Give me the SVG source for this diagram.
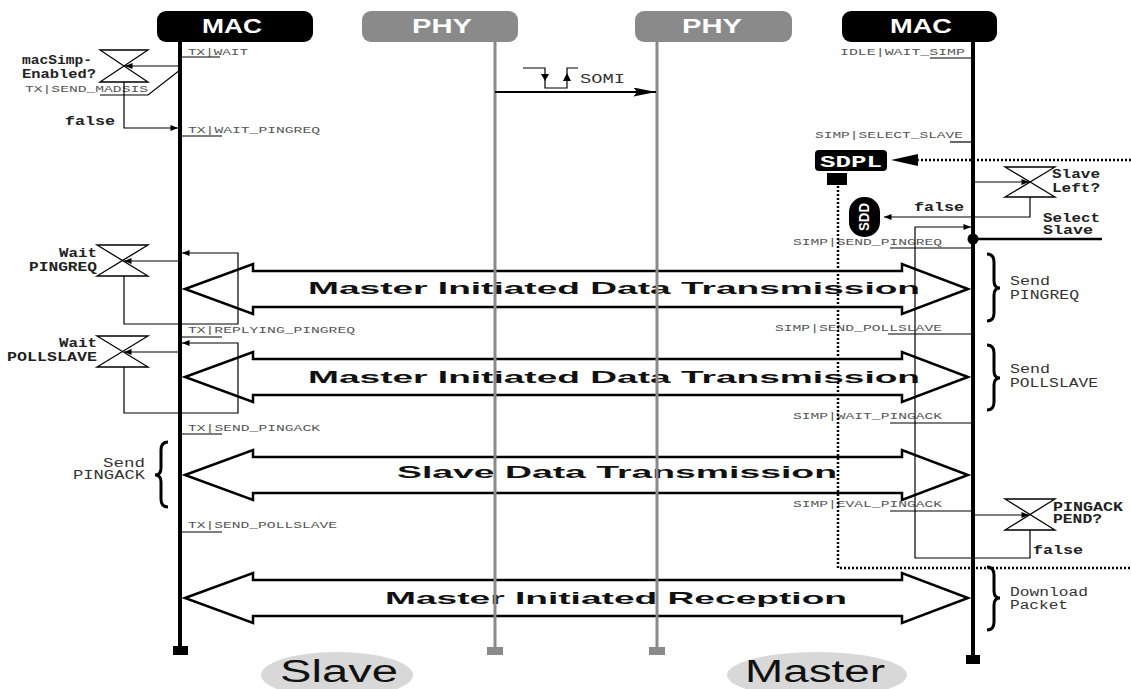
<svg xmlns="http://www.w3.org/2000/svg" width="1131" height="689" viewBox="0 0 1131 689">
<style>
.hdr{font-family:"Liberation Sans",Arial,sans-serif;font-weight:bold;font-size:20px;fill:#fff;text-anchor:middle}
.life{stroke:#000;stroke-width:4;fill:none}
.phy{stroke:#8a8a8a;stroke-width:3;fill:none}
.thin{stroke:#000;stroke-width:1.2;fill:none}
.st{font-family:"Liberation Mono","Courier New",monospace;font-size:9px;fill:#555}
.lbl{font-family:"Liberation Mono","Courier New",monospace;font-size:12px;font-weight:bold;fill:#222}
.note{font-family:"Liberation Mono","Courier New",monospace;font-size:12px;fill:#333}
.big{font-family:"Liberation Sans",Arial,sans-serif;font-size:17px;font-weight:bold;fill:#111}
.blk{stroke:#000;stroke-width:2.5;fill:none;stroke-linejoin:miter}
.brace{stroke:#000;stroke-width:3;fill:none}
.dot{stroke:#000;stroke-width:2.5;stroke-dasharray:2 2;fill:none}
.hg{stroke:#000;stroke-width:1.3;fill:#fff}
.bot{font-family:"Liberation Sans",Arial,sans-serif;font-size:31px;fill:#111}
</style>
<defs>
<marker id="a" viewBox="0 0 10 8" refX="10" refY="4" markerWidth="9" markerHeight="6" markerUnits="userSpaceOnUse" orient="auto"><path d="M0 0L10 4L0 8Z" fill="#000"/></marker>
<marker id="b" viewBox="0 0 25 10" refX="25" refY="5" markerWidth="27" markerHeight="9" markerUnits="userSpaceOnUse" orient="auto"><path d="M0 0L25 5L0 10L4 5Z" fill="#000"/></marker>
</defs>
<rect width="1131" height="689" fill="#fff"/>

<!-- big block arrows -->
<g id="arrows">
<polygon class="blk" points="185,289 253,264 253,271 902,271 902,264 968,289 902,314 902,307 253,307 253,314"/>
<polygon class="blk" points="185,377 253,352 253,359 902,359 902,352 968,377 902,402 902,395 253,395 253,402"/>
<polygon class="blk" points="185,475 253,450 253,457 902,457 902,450 968,475 902,500 902,493 253,493 253,500"/>
<polygon class="blk" points="185,598 253,573 253,580 902,580 902,573 968,598 902,623 902,616 253,616 253,623"/>
<text class="big" x="308" y="294" textLength="612" lengthAdjust="spacingAndGlyphs">Master Initiated Data Transmission</text>
<text class="big" x="308" y="383" textLength="612" lengthAdjust="spacingAndGlyphs">Master Initiated Data Transmission</text>
<text class="big" x="397" y="478" textLength="440" lengthAdjust="spacingAndGlyphs">Slave Data Transmission</text>
<text class="big" x="385" y="604" textLength="462" lengthAdjust="spacingAndGlyphs">Master Initiated Reception</text>
</g>

<!-- headers and lifelines -->
<g id="slave-mac">
<rect x="157" y="11" width="156" height="31" rx="9" fill="#000"/>
<text class="hdr" x="232" y="33" textLength="60" lengthAdjust="spacingAndGlyphs">MAC</text>
<line class="life" x1="180" y1="42" x2="180" y2="650"/>
<rect x="173" y="646" width="15" height="9" fill="#000"/>
</g>
<g id="slave-phy">
<rect x="362" y="11" width="156" height="31" rx="9" fill="#8a8a8a"/>
<text class="hdr" x="442" y="33" textLength="60" lengthAdjust="spacingAndGlyphs">PHY</text>
<line class="phy" x1="495" y1="42" x2="495" y2="650"/>
<rect x="487" y="647" width="16" height="8" fill="#8a8a8a"/>
</g>
<g id="master-phy">
<rect x="635" y="11" width="157" height="31" rx="9" fill="#8a8a8a"/>
<text class="hdr" x="712" y="33" textLength="60" lengthAdjust="spacingAndGlyphs">PHY</text>
<line class="phy" x1="657" y1="42" x2="657" y2="650"/>
<rect x="649" y="647" width="16" height="8" fill="#8a8a8a"/>
</g>
<g id="master-mac">
<rect x="842" y="11" width="155" height="31" rx="9" fill="#000"/>
<text class="hdr" x="921" y="33" textLength="62" lengthAdjust="spacingAndGlyphs">MAC</text>
<line class="life" x1="973" y1="42" x2="973" y2="658"/>
<rect x="966" y="655" width="14" height="9" fill="#000"/>
</g>

<!-- slave side state labels -->
<g id="slave-states">
<text class="st" x="188" y="55" textLength="60" lengthAdjust="spacingAndGlyphs">TX|WAIT</text>
<path class="thin" d="M180 57H220"/><circle cx="180" cy="57" r="1.6"/>
<text class="st" x="25" y="92" textLength="123" lengthAdjust="spacingAndGlyphs">TX|SEND_MADSIS</text>
<path class="thin" d="M100 95H148L180 70"/><circle cx="180" cy="70" r="1.6"/>
<text class="st" x="188" y="133" textLength="132" lengthAdjust="spacingAndGlyphs">TX|WAIT_PINGREQ</text>
<path class="thin" d="M180 136H222"/><circle cx="180" cy="136" r="1.6"/>
<text class="st" x="188" y="333" textLength="167" lengthAdjust="spacingAndGlyphs">TX|REPLYING_PINGREQ</text>
<path class="thin" d="M180 337H222"/><circle cx="180" cy="337" r="1.6"/>
<text class="st" x="188" y="431" textLength="132" lengthAdjust="spacingAndGlyphs">TX|SEND_PINGACK</text>
<path class="thin" d="M180 434H222"/><circle cx="180" cy="434" r="1.6"/>
<text class="st" x="188" y="528" textLength="149" lengthAdjust="spacingAndGlyphs">TX|SEND_POLLSLAVE</text>
<path class="thin" d="M180 532H222"/><circle cx="180" cy="532" r="1.6"/>
</g>

<!-- macSimp-Enabled? decision -->
<g id="dec-macsimp">
<path class="hg" d="M100 50H148L100 82H148Z"/>
<text class="lbl" x="22" y="64" textLength="70" lengthAdjust="spacingAndGlyphs">macSimp-</text>
<text class="lbl" x="22" y="78" textLength="74" lengthAdjust="spacingAndGlyphs">Enabled?</text>
<text class="lbl" x="65" y="125" textLength="50" lengthAdjust="spacingAndGlyphs">false</text>
</g>

<!-- Wait PINGREQ decision -->
<g id="dec-wait-pingreq">
<path class="hg" d="M97 245H148L97 276H148Z"/>
<text class="lbl" x="97" y="257" text-anchor="end" textLength="38" lengthAdjust="spacingAndGlyphs">Wait</text>
<text class="lbl" x="97" y="271" text-anchor="end" textLength="68" lengthAdjust="spacingAndGlyphs">PINGREQ</text>
</g>

<!-- Wait POLLSLAVE decision -->
<g id="dec-wait-pollslave">
<path class="hg" d="M97 336H148L97 367H148Z"/>
<text class="lbl" x="97" y="347" text-anchor="end" textLength="38" lengthAdjust="spacingAndGlyphs">Wait</text>
<text class="lbl" x="97" y="361" text-anchor="end" textLength="90" lengthAdjust="spacingAndGlyphs">POLLSLAVE</text>
</g>

<!-- Send PINGACK brace -->
<g id="send-pingack">
<path class="brace" d="M168 442Q161 442 161 450V468Q161 475 155 475Q161 475 161 482V499Q161 507 168 507"/>
<text class="note" x="145" y="467" text-anchor="end" textLength="42" lengthAdjust="spacingAndGlyphs">Send</text>
<text class="note" x="145" y="479" text-anchor="end" textLength="72" lengthAdjust="spacingAndGlyphs">PINGACK</text>
</g>

<!-- master side state labels -->
<g id="master-states">
<text class="st" x="840" y="55" textLength="125" lengthAdjust="spacingAndGlyphs">IDLE|WAIT_SIMP</text>
<path class="thin" d="M930 58H973"/><circle cx="973" cy="58" r="1.6"/>
<text class="st" x="815" y="138" textLength="148" lengthAdjust="spacingAndGlyphs">SIMP|SELECT_SLAVE</text>
<path class="thin" d="M950 142H973"/><circle cx="973" cy="142" r="1.6"/>
<text class="st" x="793" y="245" textLength="149" lengthAdjust="spacingAndGlyphs">SIMP|SEND_PINGREQ</text>
<path class="thin" d="M890 248H973"/><circle cx="973" cy="248" r="1.6"/>
<text class="st" x="775" y="331" textLength="167" lengthAdjust="spacingAndGlyphs">SIMP|SEND_POLLSLAVE</text>
<path class="thin" d="M888 334H973"/><circle cx="973" cy="334" r="1.6"/>
<text class="st" x="793" y="419" textLength="149" lengthAdjust="spacingAndGlyphs">SIMP|WAIT_PINGACK</text>
<path class="thin" d="M890 423H973"/><circle cx="973" cy="423" r="1.6"/>
<text class="st" x="793" y="507" textLength="149" lengthAdjust="spacingAndGlyphs">SIMP|EVAL_PINGACK</text>
<path class="thin" d="M890 511H973"/><circle cx="973" cy="511" r="1.6"/>
</g>

<!-- SDPL -->
<g id="sdpl">
<rect x="815" y="150" width="72" height="21" rx="4" fill="#000"/>
<text x="851" y="167" text-anchor="middle" font-family="Liberation Mono, Courier New, monospace" font-weight="bold" font-size="17" fill="#fff" textLength="62" lengthAdjust="spacingAndGlyphs">SDPL</text>
<rect x="827" y="173" width="20" height="12" fill="#000"/>
</g>

<!-- SDD -->
<g id="sdd">
<rect x="849" y="197" width="31" height="40" rx="15" fill="#000"/>
<text x="0" y="0" transform="translate(869 217) rotate(-90)" text-anchor="middle" font-family="Liberation Sans, Arial, sans-serif" font-weight="bold" font-size="14" fill="#fff" textLength="28" lengthAdjust="spacingAndGlyphs">SDD</text>
</g>

<!-- Slave Left? decision -->
<g id="dec-slave-left">
<path class="hg" d="M1005 167H1055L1005 197H1055Z"/>
<text class="lbl" x="1052" y="178" textLength="48" lengthAdjust="spacingAndGlyphs">Slave</text>
<text class="lbl" x="1052" y="192" textLength="48" lengthAdjust="spacingAndGlyphs">Left?</text>
<text class="lbl" x="914" y="211" textLength="50" lengthAdjust="spacingAndGlyphs">false</text>
</g>

<!-- Select Slave -->
<g id="select-slave">
<circle cx="973" cy="239" r="5.5" fill="#000"/>
<text class="lbl" x="1043" y="222" textLength="57" lengthAdjust="spacingAndGlyphs">Select</text>
<text class="lbl" x="1043" y="234" textLength="50" lengthAdjust="spacingAndGlyphs">Slave</text>
</g>

<!-- PINGACK PEND? decision -->
<g id="dec-pingack-pend">
<path class="hg" d="M1005 499H1055L1005 530H1055Z"/>
<text class="lbl" x="1053" y="511" textLength="70" lengthAdjust="spacingAndGlyphs">PINGACK</text>
<text class="lbl" x="1053" y="523" textLength="49" lengthAdjust="spacingAndGlyphs">PEND?</text>
<text class="lbl" x="1033" y="554" textLength="50" lengthAdjust="spacingAndGlyphs">false</text>
</g>

<!-- master braces -->
<g id="master-braces">
<path class="brace" d="M987 254Q994 254 994 262V281Q994 288 1000 288Q994 288 994 295V313Q994 321 987 321"/>
<text class="note" x="1010" y="285" textLength="40" lengthAdjust="spacingAndGlyphs">Send</text>
<text class="note" x="1010" y="299" textLength="69" lengthAdjust="spacingAndGlyphs">PINGREQ</text>
<path class="brace" d="M987 345Q994 345 994 353V371Q994 378 1000 378Q994 378 994 385V402Q994 410 987 410"/>
<text class="note" x="1010" y="373" textLength="40" lengthAdjust="spacingAndGlyphs">Send</text>
<text class="note" x="1010" y="387" textLength="88" lengthAdjust="spacingAndGlyphs">POLLSLAVE</text>
<path class="brace" d="M987 567Q994 567 994 575V591Q994 598 1000 598Q994 598 994 605V622Q994 630 987 630"/>
<text class="note" x="1010" y="596" textLength="78" lengthAdjust="spacingAndGlyphs">Download</text>
<text class="note" x="1010" y="609" textLength="58" lengthAdjust="spacingAndGlyphs">Packet</text>
</g>

<!-- SOMI signal -->
<g id="somi">
<path class="thin" d="M523 68H545V88H567V68H578"/>
<path d="M541 74H549L545 81Z" fill="#000"/>
<path d="M563 81H571L567 73Z" fill="#000"/>
<text class="note" x="580" y="83" fill="#111" textLength="45" lengthAdjust="spacingAndGlyphs">SOMI</text>
</g>

<!-- bottom labels -->
<g id="slave-label">
<ellipse cx="337" cy="675" rx="76" ry="23" fill="#d8d8d8"/>
<text class="bot" x="280" y="682" textLength="118" lengthAdjust="spacingAndGlyphs">Slave</text>
</g>
<g id="master-label">
<ellipse cx="817" cy="675" rx="90" ry="23" fill="#d8d8d8"/>
<text class="bot" x="745" y="682" textLength="140" lengthAdjust="spacingAndGlyphs">Master</text>
</g>

<!-- connectors -->
<g id="connectors">
<path class="thin" d="M180 66H125" marker-end="url(#a)"/>
<path class="thin" d="M124 82V128H178" marker-end="url(#a)"/>
<path class="thin" d="M180 261H124" marker-end="url(#a)"/>
<path class="thin" d="M124 276V324H238V253H182" marker-end="url(#a)"/>
<path class="thin" d="M180 352H124" marker-end="url(#a)"/>
<path class="thin" d="M124 367V413H238V343H182" marker-end="url(#a)"/>
<path d="M495 92H656" stroke="#000" stroke-width="2" fill="none" marker-end="url(#b)"/>
<path class="dot" d="M1131 160H915"/>
<path d="M891 160L918 154L918 166Z" fill="#000"/>
<path class="dot" d="M838 186V568H1131"/>
<path class="thin" d="M975 182H1029" marker-end="url(#a)"/>
<path class="thin" d="M1030 197V217H884" marker-end="url(#a)"/>
<path d="M973 239H1102" stroke="#000" stroke-width="2.5"/>
<path class="thin" d="M1030 530V558H915V227H971" marker-end="url(#a)"/>
<path class="thin" d="M975 515H1029" marker-end="url(#a)"/>
</g>
</svg>
